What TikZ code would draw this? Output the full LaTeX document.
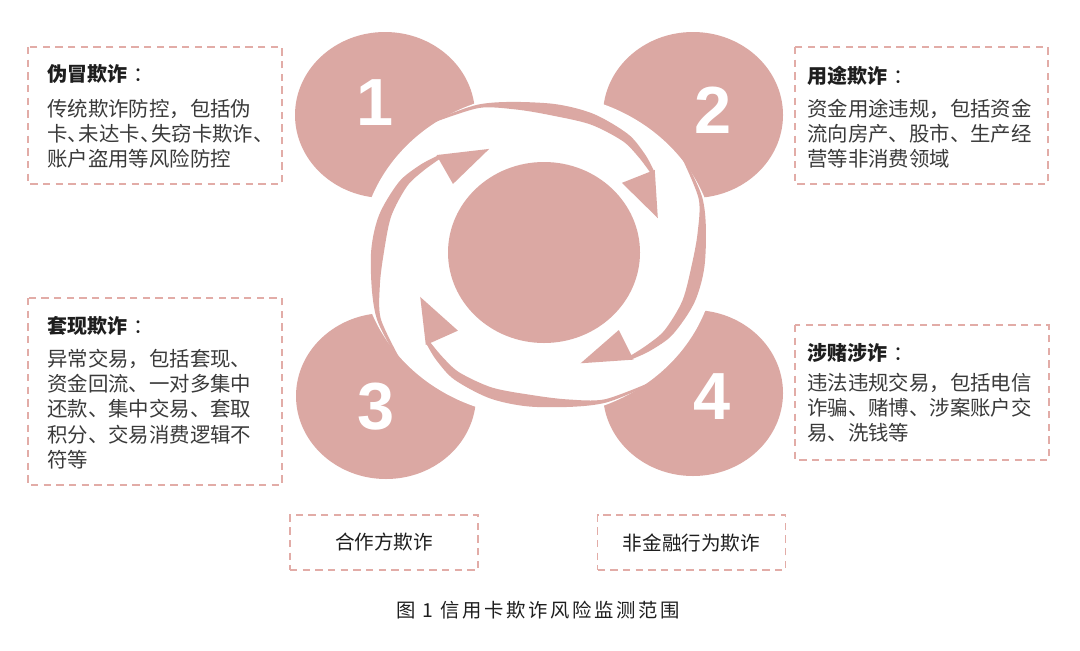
\documentclass[tikz,border=0pt]{standalone}
\usepackage{fontspec}
\setmainfont{Liberation Sans}
\newfontfamily\cjkfont{Noto Sans CJK SC}
\newfontfamily\capfont{Noto Sans CJK SC}[LetterSpace=14]
\usepackage{tikz}
\definecolor{rosefill}{RGB}{219,168,163}
\definecolor{roseline}{RGB}{226,172,167}
\definecolor{bodygray}{RGB}{58,58,58}
\definecolor{titlegray}{RGB}{30,30,30}
\newcommand\dunhao{、\kern-0.45em}
\newcommand\headcolon{\hspace{0.3em}{\mdseries ：}}

\begin{document}
\begin{tikzpicture}[x=0.75pt,y=-0.75pt,
    rose/.style={fill=rosefill},
    dashbox/.style={draw=roseline,line width=1.4pt,dash pattern=on 5.5pt off 4pt},
    numtext/.style={text=white,inner sep=0pt,font=\bfseries\fontsize{50}{50}\selectfont},
    headtext/.style={text=titlegray,inner sep=0pt,anchor=base west,font=\cjkfont\bfseries\fontsize{15}{18}\selectfont},
    bodytext/.style={text=bodygray,inner sep=0pt,anchor=base west,text width=200pt,align=left,font=\cjkfont\fontsize{15.3}{19.1}\selectfont},
    tagbox/.style={dashbox,text=titlegray,minimum width=141pt,minimum height=41.25pt,inner sep=0pt,font=\cjkfont\fontsize{14.7}{17}\selectfont}]
        \useasboundingbox (0,0) rectangle (1080,650);

        \fill [rose] (385,115) ellipse [x radius=90, y radius=83];
        \fill [rose] (693,115) ellipse [x radius=90, y radius=83];
        \fill [rose] (386,396) ellipse [x radius=90, y radius=83];
        \fill [rose] (693,393) ellipse [x radius=90, y radius=83];
        \fill [white] (538,255) ellipse [x radius=178, y radius=162];

        \begin{scope}[shift={(538,255)},xscale=1.1]
        \fill [rose] plot[smooth] coordinates {(-135:172) (-110:160) (-87:152) (-71:150) (-56:146) (-46:140) (-38.8:135)}
            -- (-38.7:136) -- (-18.7:115) -- (-43.4:105) -- (-39.3:131.3)
            -- plot[smooth] coordinates {(-39.3:131.3) (-47:134) (-56:137.5) (-70:139) (-86:140.5) (-98:147) (-110:156.5) (-125:162.5)} -- cycle;
        \fill [rose,rotate=-89] plot[smooth] coordinates {(-135:172) (-110:160) (-87:152) (-71:150) (-56:146) (-46:140) (-38.8:135)}
            -- (-38.7:136) -- (-18.7:115) -- (-43.4:105) -- (-39.3:131.3)
            -- plot[smooth] coordinates {(-39.3:131.3) (-47:134) (-56:137.5) (-70:139) (-86:140.5) (-98:147) (-110:156.5) (-125:162.5)} -- cycle;
        \fill [rose,rotate=-177.3] plot[smooth] coordinates {(-135:172) (-110:160) (-87:152) (-71:150) (-56:146) (-46:140) (-38.8:135)}
            -- (-38.7:136) -- (-18.7:115) -- (-43.4:105) -- (-39.3:131.3)
            -- plot[smooth] coordinates {(-39.3:131.3) (-47:134) (-56:137.5) (-70:139) (-86:140.5) (-98:147) (-110:156.5) (-125:162.5)} -- cycle;
        \fill [rose,rotate=-266] plot[smooth] coordinates {(-135:172) (-110:160) (-87:152) (-71:150) (-56:146) (-46:140) (-38.8:135)}
            -- (-38.7:136) -- (-18.7:115) -- (-43.4:105) -- (-39.3:131.3)
            -- plot[smooth] coordinates {(-39.3:131.3) (-47:134) (-56:137.5) (-70:139) (-86:140.5) (-98:147) (-110:156.5) (-125:162.5)} -- cycle;
        \end{scope}

        \fill [rose] (544,252.5) ellipse [x radius=96, y radius=90.5];

        \node [numtext] (n1) at (375,103) {1};
        \node [numtext] (n2) at (713,110) {2};
        \node [numtext] (n3) at (376,407) {3};
        \node [numtext] (n4) at (712,397) {4};

        \draw [dashbox] (28,47) rectangle (282,184);
        \draw [dashbox] (795,47) rectangle (1048,184);
        \draw [dashbox] (28,298) rectangle (282,485);
        \draw [dashbox] (795,325) rectangle (1049,460);

        \node [headtext] (h1) at (47,81) {伪冒欺诈\headcolon};
        \node [bodytext] (b1) at (47,116) {传统欺诈防控，包括伪\\卡\dunhao 未达卡\dunhao 失窃卡欺诈\dunhao\\账户盗用等风险防控};
        \node [headtext] (h2) at (807,83) {用途欺诈\headcolon};
        \node [bodytext] (b2) at (807,116) {资金用途违规，包括资金\\流向房产、股市、生产经\\营等非消费领域};
        \node [headtext] (h3) at (47,333) {套现欺诈\headcolon};
        \node [bodytext] (b3) at (47,366) {异常交易，包括套现、\\资金回流、一对多集中\\还款、集中交易、套取\\积分、交易消费逻辑不\\符等};
        \node [headtext] (h4) at (807,360) {涉赌涉诈\headcolon};
        \node [bodytext] (b4) at (807,390) {违法违规交易，包括电信\\诈骗、赌博、涉案账户交\\易、洗钱等};

        \node [tagbox] (p5) at (384,542.5) {合作方欺诈};
        \node [tagbox] (p6) at (691.5,542.5) {非金融行为欺诈};

        \node [text=titlegray,inner sep=0pt,font=\capfont\fontsize{14.5}{17}\selectfont] (cap) at (538,610) {图 1 信用卡欺诈风险监测范围};
    \end{tikzpicture}
\end{document}
